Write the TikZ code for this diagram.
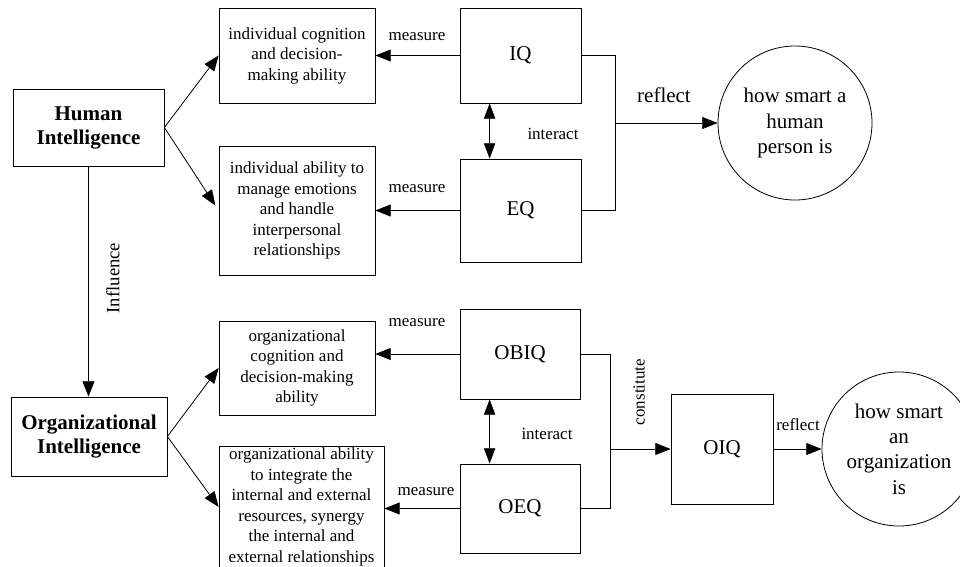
\documentclass[tikz,border=0pt]{standalone}
\usepackage{fontspec}
\setmainfont{Liberation Serif}
\usetikzlibrary{arrows.meta,calc}
\tikzset{
  % Stile per i riquadri di testo
  box/.style={draw, line width=0.6pt, inner sep=0pt, align=center,
    font=\fontsize{12.75}{15.4}\selectfont},
  % Stile per i riquadri con le sigle (IQ, EQ, ...)
  bigbox/.style={box, font=\fontsize{15.75}{19}\selectfont},
  % Stile per i riquadri principali
  mainbox/.style={box, font=\fontsize{15.75}{18}\selectfont\bfseries},
  % Stile per i cerchi finali
  smartcircle/.style={draw, circle, line width=0.6pt, inner sep=0pt,
    minimum size=115.5pt, align=center, font=\fontsize{15.75}{19}\selectfont},
  % Stile per le etichette
  lbl/.style={inner sep=0pt, font=\fontsize{12.75}{15.4}\selectfont},
  biglbl/.style={inner sep=0pt, font=\fontsize{15.75}{19}\selectfont},
  % Stile per le frecce
  line/.style={line width=0.6pt},
  arr/.style={line, -{Triangle[length=11.5pt,width=9pt]}},
  biarr/.style={line, {Triangle[length=11.5pt,width=8.5pt]}-{Triangle[length=11.5pt,width=8.5pt]}}
}

\begin{document}
\begin{tikzpicture}[x=0.75pt, y=-0.75pt]
  \useasboundingbox (0,0) rectangle (960,567);

  % Intelligenza umana
  \node[mainbox, minimum width=113.25pt, minimum height=57.75pt] (hi) at (88.5,127.5) {Human\\Intelligence};
  \node[box, minimum width=117pt, minimum height=71.25pt] (cogh) at (297,55.5) {individual cognition\\and decision-\\making ability};
  \node[box, minimum width=117pt, minimum height=96.75pt] (emoh) at (297,210.5) {individual ability to\\manage emotions\\and handle\\interpersonal\\relationships};
  \node[bigbox, minimum width=90.75pt, minimum height=71.25pt] (iq) at (520.5,55.5) {IQ};
  \node[bigbox, minimum width=90.75pt, minimum height=77.25pt] (eq) at (520.5,210.5) {EQ};
  \node[smartcircle] (smarth) at (795,123) {how smart a\\human\\person is};

  % Intelligenza organizzativa
  \node[mainbox, minimum width=117pt, minimum height=59.25pt] (oi) at (89,436.5) {Organizational\\Intelligence};
  \node[box, minimum width=117pt, minimum height=70.5pt] (cogo) at (297,368) {organizational\\cognition and\\decision-making\\ability};
  \node[box, minimum width=123.75pt, minimum height=91.5pt] (emoo) at (301.5,507) {organizational ability\\to integrate the\\internal and external\\resources, synergy\\the internal and\\external relationships};
  \node[bigbox, minimum width=90pt, minimum height=67.5pt] (obiq) at (520,354) {OBIQ};
  \node[bigbox, minimum width=90pt, minimum height=66.75pt] (oeq) at (520,508.5) {OEQ};
  \node[bigbox, minimum width=76.5pt, minimum height=82.5pt] (oiq) at (722,449) {OIQ};
  \node[smartcircle] (smarto) at (899,449) {how smart\\an\\organization\\is};

  % Frecce dai riquadri principali
  \draw[arr] (hi.east) -- (cogh.west);
  \draw[arr, shorten >=4.5pt] (hi.east) -- (emoh.west);
  \draw[arr] (hi.south) -- (hi.south |- oi.north);
  \draw[arr] (oi.east) -- (cogo.west);
  \draw[arr] (oi.east) -- (emoo.west);

  % Misure
  \draw[arr] (iq.west) -- (cogh.east);
  \draw[arr] (eq.west) -- (emoh.east);
  \draw[arr] (obiq.west) -- (obiq.west -| cogo.east);
  \draw[arr] (oeq.west) -- (oeq.west -| emoo.east);

  % Interazioni
  \coordinate (ih) at ($(iq.south west)+(30,0)$);
  \coordinate (io) at ($(obiq.south west)+(30,0)$);
  \draw[biarr] (ih) -- (ih |- eq.north);
  \draw[biarr] (io) -- (io |- oeq.north);

  % Parentesi e riflessi
  \draw[line] (iq.east) -- ++(34,0) coordinate (jh) |- (eq.east);
  \draw[arr] (jh |- smarth.west) -- (smarth.west);
  \draw[line] (obiq.east) -- ++(30,0) coordinate (jo) |- (oeq.east);
  \draw[arr] (jo |- oiq.west) -- (oiq.west);
  \draw[arr] (oiq.east) -- (smarto.west);

  % Etichette
  \node[lbl] (m1) at (417,37) {measure};
  \node[lbl] (m2) at (417,189) {measure};
  \node[lbl] (m3) at (417,323) {measure};
  \node[lbl] (m4) at (426,492) {measure};
  \node[lbl] (i1) at (553,134) {interact};
  \node[lbl] (i2) at (547,434) {interact};
  \node[biglbl] (r1) at (664,95) {reflect};
  \node[lbl] (r2) at (798,425) {reflect};
  \node[lbl, rotate=90] (c1) at (639,392) {constitute};
  \node[lbl, font=\fontsize{14}{17}\selectfont, rotate=90] (inf) at (113,278) {Influence};
\end{tikzpicture}
\end{document}
